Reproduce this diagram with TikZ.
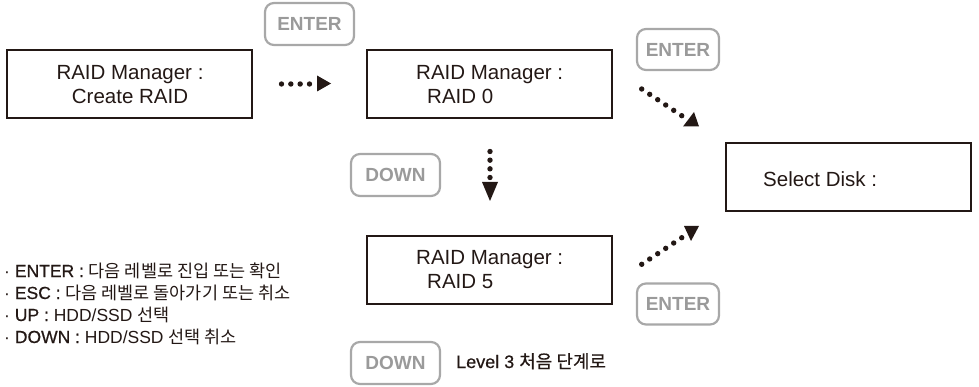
\documentclass[tikz,border=0pt]{standalone}
\usepackage{fontspec}
\usetikzlibrary{calc}
\setmainfont{Liberation Sans}
\newfontfamily\kr[Scale=1.0]{Noto Sans CJK KR}
\newfontfamily\krmed[Scale=1.0,FakeBold=0.6]{Noto Sans CJK KR}
\newfontfamily\med[FakeBold=0.6]{Liberation Sans}
\definecolor{ink}{HTML}{231815}
\definecolor{btnline}{HTML}{A8A8A8}
\definecolor{btntext}{HTML}{9A9A9A}
\begin{document}
\begin{tikzpicture}[x=1pt,y=-1pt,
  box/.style={draw=ink,line width=2pt,minimum height=68pt,minimum width=245pt,inner sep=0pt},
  btn/.style={draw=btnline,line width=2.2pt,rounded corners=9pt,minimum height=42pt,inner sep=0pt,text=btntext,font=\fontsize{19}{19}\selectfont\bfseries},
  boxtxt/.style={inner sep=0pt,text=ink,font=\fontsize{20.5}{24}\selectfont},
  legend/.style={inner sep=0pt,anchor=base west,text=ink,font=\fontsize{17.5}{17.5}\selectfont},
  tip/.style={fill=ink,draw=none}]
\useasboundingbox (0,0) rectangle (979,387);

% boxes
\node[box] (b1) at (129.5,84) {};
\node[box] (b2) at (489.5,84) {};
\node[box] (b3) at (848.5,177) {};
\node[box] (b4) at (489.5,270) {};

% box texts
\node[boxtxt,anchor=base] (t1a) at (130,80) {RAID Manager :};
\node[boxtxt,anchor=base] (t1b) at (130,104) {Create RAID};
\node[boxtxt,anchor=base west] (t2a) at (416,80) {RAID Manager :};
\node[boxtxt,anchor=base west] (t2b) at (427,103.5) {RAID 0};
\node[boxtxt,anchor=base west] (t3) at (763,187) {Select Disk :};
\node[boxtxt,anchor=base west] (t4a) at (416,265) {RAID Manager :};
\node[boxtxt,anchor=base west] (t4b) at (427,288.5) {RAID 5};

% buttons
\node[btn,minimum width=89pt] (k1) at (309.5,24) {ENTER};
\node[btn,minimum width=82pt,minimum height=41pt] (k2) at (678,49.5) {ENTER};
\node[btn,minimum width=89pt] (k3) at (395.5,175) {DOWN};
\node[btn,minimum width=82pt,minimum height=41pt] (k4) at (678,304) {ENTER};
\node[btn,minimum width=89pt] (k5) at (395.5,363) {DOWN};

% arrow b1 -> b2
\coordinate (h1) at (281.5,84);
\coordinate (h2) at (309.5,84);
\foreach \t in {0,0.3333,0.6667,1} \fill[ink] ($(h1)!\t!(h2)$) circle (2.7);
\fill[tip] (317,75.5) -- (331,83.5) -- (317,91.5) -- cycle;

% arrow b2 -> b4
\coordinate (v1) at (490,151.5);
\coordinate (v2) at (490,177.5);
\foreach \t in {0,0.3333,0.6667,1} \fill[ink] ($(v1)!\t!(v2)$) circle (2.7);
\fill[tip] (482,182) -- (498,182) -- (490,201) -- cycle;

% arrow b2 -> b3
\coordinate (d1) at (641.7,89);
\coordinate (d2) at (681.7,115.7);
\foreach \t in {0,0.2,0.4,0.6,0.8,1} \fill[ink] ($(d1)!\t!(d2)$) circle (2.7);
\fill[tip] (683,126.5) -- (699,126.5) -- (694,112) -- cycle;

% arrow b4 -> b3
\coordinate (e1) at (641.7,264.3);
\coordinate (e2) at (681.7,237.7);
\foreach \t in {0,0.2,0.4,0.6,0.8,1} \fill[ink] ($(e1)!\t!(e2)$) circle (2.7);
\fill[tip] (684,226) -- (699,226) -- (691,241) -- cycle;

% legend
\node[legend] (l1) at (4,277) {· {\med ENTER :} {\kr 다음 레벨로 진입 또는 확인}};
\node[legend] (l2) at (4,299) {· {\med ESC :} {\kr 다음 레벨로 돌아가기 또는 취소}};
\node[legend] (l3) at (4,321) {· {\med UP :} HDD/SSD {\kr 선택}};
\node[legend] (l4) at (4,343) {· {\med DOWN :} HDD/SSD {\kr 선택 취소}};

\node[legend,font=\fontsize{18}{18}\selectfont] (lv) at (456,368) {{\med Level 3} {\krmed 처음 단계로}};
\end{tikzpicture}
\end{document}
